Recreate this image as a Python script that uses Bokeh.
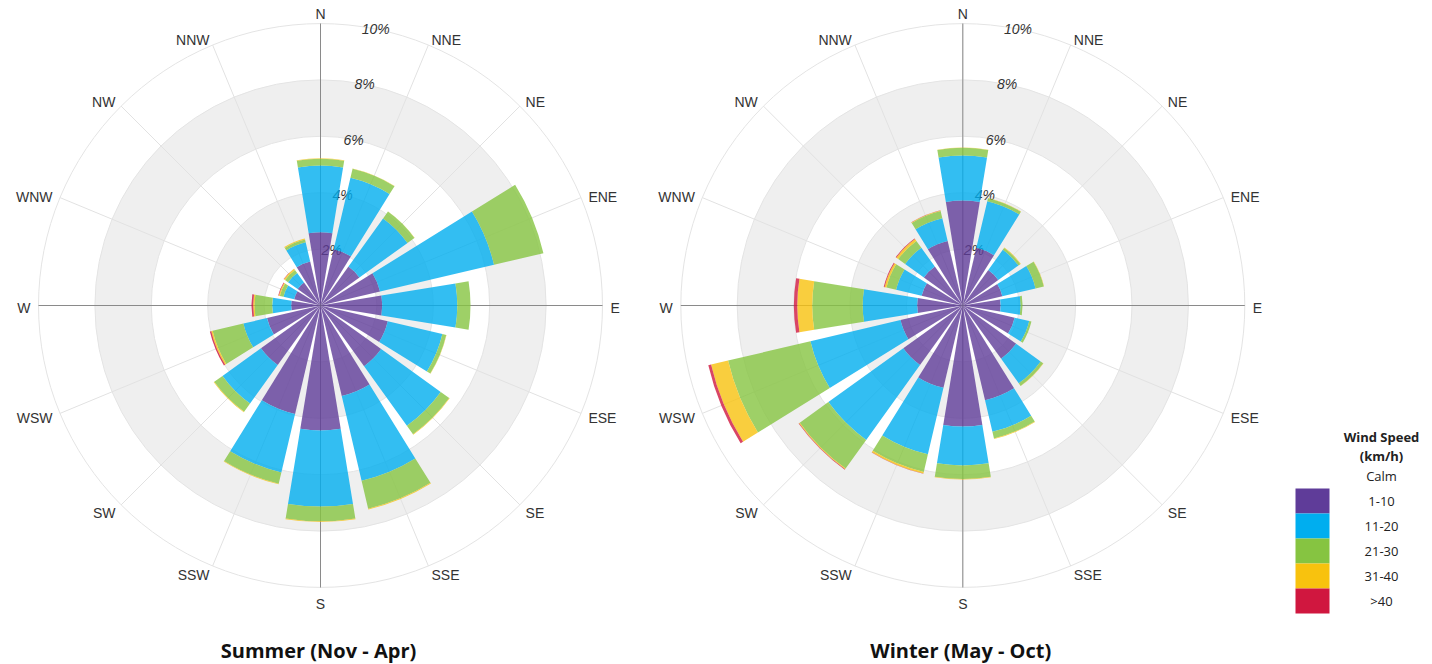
import numpy as np
from bokeh.plotting import figure
from bokeh.models import ColumnDataSource, Label, Range1d
from bokeh.embed import file_html
from bokeh.resources import INLINE
from bokeh.core.properties import value

# ---------------- data ----------------
DIRECTIONS = ["N", "NNE", "NE", "ENE", "E", "ESE", "SE", "SSE",
              "S", "SSW", "SW", "WSW", "W", "WNW", "NW", "NNW"]
SPEED_BANDS = ["1-10", "11-20", "21-30", "31-40", ">40"]
BAND_COLORS = ["#5f3c99", "#00aeef", "#86c441", "#f8c20e", "#d0173f"]
LEGEND_TITLE = ["Wind Speed", "(km/h)"]
CALM_LABEL = "Calm"
RADIAL_TICKS = [2, 4, 6, 8, 10]
TITLES = ["Summer (Nov - Apr)", "Winter (May - Oct)"]

# Summer (Nov - Apr): frequency (%) per direction, per speed band
SUMMER_1_10 = [2.60, 2.05, 1.70, 2.17, 2.19, 2.45, 2.65, 3.30, 4.43, 3.95, 2.60, 1.95, 1.04, 0.96, 1.00, 1.60]
SUMMER_11_20 = [2.36, 2.60, 2.10, 4.15, 2.66, 1.99, 2.60, 3.08, 2.70, 2.13, 1.68, 0.86, 0.67, 0.39, 0.42, 0.70]
SUMMER_21_30 = [0.24, 0.33, 0.30, 1.80, 0.47, 0.14, 0.37, 1.02, 0.52, 0.41, 0.36, 1.12, 0.63, 0.13, 0.13, 0.10]
SUMMER_31_40 = [0.02, 0.01, 0.01, 0.00, 0.00, 0.01, 0.02, 0.03, 0.03, 0.02, 0.02, 0.05, 0.05, 0.04, 0.05, 0.04]
SUMMER_40P = [0.00, 0.00, 0.00, 0.00, 0.00, 0.00, 0.00, 0.00, 0.00, 0.00, 0.00, 0.05, 0.06, 0.02, 0.01, 0.00]

# Winter (May - Oct)
WINTER_1_10 = [3.72, 2.10, 1.55, 1.44, 1.34, 1.89, 2.33, 3.45, 4.29, 3.00, 2.60, 2.27, 1.62, 1.50, 1.70, 2.35]
WINTER_11_20 = [1.60, 1.70, 0.88, 1.21, 0.71, 0.53, 1.07, 1.15, 1.38, 2.42, 3.27, 3.28, 1.93, 0.93, 0.82, 0.83]
WINTER_21_30 = [0.27, 0.11, 0.08, 0.30, 0.07, 0.08, 0.11, 0.24, 0.48, 0.64, 1.25, 3.00, 1.79, 0.35, 0.30, 0.26]
WINTER_31_40 = [0.01, 0.01, 0.02, 0.01, 0.00, 0.00, 0.01, 0.02, 0.02, 0.06, 0.03, 0.62, 0.53, 0.07, 0.08, 0.02]
WINTER_40P = [0.00, 0.00, 0.00, 0.00, 0.00, 0.00, 0.00, 0.00, 0.00, 0.01, 0.02, 0.10, 0.12, 0.03, 0.03, 0.01]

SEASONS = [
    [SUMMER_1_10, SUMMER_11_20, SUMMER_21_30, SUMMER_31_40, SUMMER_40P],
    [WINTER_1_10, WINTER_11_20, WINTER_21_30, WINTER_31_40, WINTER_40P],
]

# ---------------- layout ----------------
W, H = 1432, 664
SCALE = 28.2                      # pixels per percent
CENTERS_PX = [(320.0, 305.0), (962.3, 305.0)]   # pixel coords of the two rose centres
R_MAX = 10.0
HALF_W = 9.3                      # half angular width of each bar (deg)
LABEL_ANGLE = 11.3                # angle of the radial tick labels (deg from N)


def to_data(X, Y):
    """canvas pixel -> data units (percent), left rose centre at origin"""
    return ((X - CENTERS_PX[0][0]) / SCALE, (CENTERS_PX[0][1] - Y) / SCALE)


x0, y1 = to_data(0, 0)
x1, y0 = to_data(W, H)

p = figure(width=W, height=H, x_range=Range1d(x0, x1), y_range=Range1d(y0, y1),
           output_backend="svg", toolbar_location=None, min_border=0,
           x_axis_type=None, y_axis_type=None, outline_line_color=None,
           background_fill_color="white", border_fill_color="white")
p.grid.visible = False

n = len(DIRECTIONS)
dir_deg = np.arange(n) * 360.0 / n

for k, bands in enumerate(SEASONS):
    cx, cy = to_data(*CENTERS_PX[k])

    # alternating plot bands
    for lo in RADIAL_TICKS[0::2][:2]:
        p.annulus(x=cx, y=cy, inner_radius=lo, outer_radius=lo + 2,
                  fill_color="#efefef", line_color=None)
    # ring grid lines
    p.circle(x=[cx] * len(RADIAL_TICKS), y=[cy] * len(RADIAL_TICKS), radius=RADIAL_TICKS,
             fill_color=None, line_color="#e4e4e4", line_width=1)
    # radial grid lines
    rad = np.radians(dir_deg)
    p.segment(x0=[cx] * n, y0=[cy] * n,
              x1=cx + R_MAX * np.sin(rad), y1=cy + R_MAX * np.cos(rad),
              line_color="#e2e2e2", line_width=1)
    # main axes (N-S, E-W)
    p.segment(x0=[cx, cx - R_MAX], y0=[cy - R_MAX, cy], x1=[cx, cx + R_MAX], y1=[cy + R_MAX, cy],
              line_color="#8a8a8a", line_width=1)

    # radial tick labels
    la = np.radians(LABEL_ANGLE)
    rt = np.array(RADIAL_TICKS, dtype=float)
    p.text(x=cx + rt * np.sin(la), y=cy + rt * np.cos(la), text=[f"{t}%" for t in RADIAL_TICKS],
           text_font=value("Liberation Sans"), text_font_style="italic", text_font_size="14px",
           text_color="#333333", text_align="center", text_baseline="middle")

    # stacked bars
    vals = np.array(bands, dtype=float)          # (5, 16)
    cum = np.cumsum(vals, axis=0)
    inner = np.vstack([np.zeros(n), cum[:-1]])
    for b in range(len(SPEED_BANDS)):
        mask = vals[b] > 0
        m = int(mask.sum())
        src = ColumnDataSource(dict(
            x=[cx] * m, y=[cy] * m,
            inner=inner[b][mask], outer=cum[b][mask],
            start=(90.0 - dir_deg[mask] - HALF_W), end=(90.0 - dir_deg[mask] + HALF_W),
        ))
        p.annular_wedge(x="x", y="y", inner_radius="inner", outer_radius="outer",
                        start_angle="start", end_angle="end",
                        start_angle_units="deg", end_angle_units="deg",
                        source=src, fill_color=BAND_COLORS[b], fill_alpha=0.8, line_color=None)

    # direction labels
    PX, PY = CENTERS_PX[k]
    groups = {"left": ([], [], []), "right": ([], [], []), "center": ([], [], [])}
    for name, d in zip(DIRECTIONS, dir_deg):
        a = np.radians(d)
        s, c = np.sin(a), np.cos(a)
        if abs(s) < 0.2:
            r = 295 - 3 * c
            X, Y = PX + r * s, PY - r * c
            g = "center"
        else:
            r = 290
            X, Y = PX + r * s, PY - r * c + 2
            g = "left" if s > 0 else "right"
        dx, dy = to_data(X, Y)
        groups[g][0].append(dx)
        groups[g][1].append(dy)
        groups[g][2].append(name)
    for g, (xs, ys, ts) in groups.items():
        p.text(x=xs, y=ys, text=ts, text_font=value("Liberation Sans"), text_font_size="14px",
               text_color="#333333", text_align=g, text_baseline="middle")

    # title below the rose
    tx, ty = to_data(PX - 2, 650)
    p.add_layout(Label(x=tx, y=ty, text=TITLES[k], text_font="Open Sans",
                       text_font_style="bold", text_font_size="20px", text_color="#111111",
                       text_align="center", text_baseline="middle"))

# ---------------- legend ----------------
LX0, LX1 = 1295, 1329
LTOP, LSTEP = 488, 25
LTX = 1381
for i, t in enumerate(LEGEND_TITLE):
    x, y = to_data(LTX, 436 + 19 * i)
    p.add_layout(Label(x=x, y=y, text=t, text_font="Open Sans", text_font_style="bold",
                       text_font_size="13px", text_color="#222222", text_align="center",
                       text_baseline="middle"))
x, y = to_data(LTX, 475)
p.add_layout(Label(x=x, y=y, text=CALM_LABEL, text_font="Open Sans", text_font_size="13px",
                   text_color="#222222", text_align="center", text_baseline="middle"))
nb = len(SPEED_BANDS)
qx0, _ = to_data(LX0, 0)
qx1, _ = to_data(LX1, 0)
tops = [to_data(0, LTOP + LSTEP * i)[1] for i in range(nb)]
bots = [to_data(0, LTOP + LSTEP * (i + 1))[1] for i in range(nb)]
p.quad(left=[qx0] * nb, right=[qx1] * nb, top=tops, bottom=bots, fill_color=BAND_COLORS, line_color=None)
lab_y = [to_data(0, LTOP + LSTEP * i + LSTEP / 2)[1] for i in range(nb)]
p.text(x=[to_data(LTX, 0)[0]] * nb, y=lab_y, text=SPEED_BANDS, text_font=value("Open Sans"),
       text_font_size="13px", text_color="#222222", text_align="center", text_baseline="middle")

open("out.html", "w").write(file_html(p, INLINE))
